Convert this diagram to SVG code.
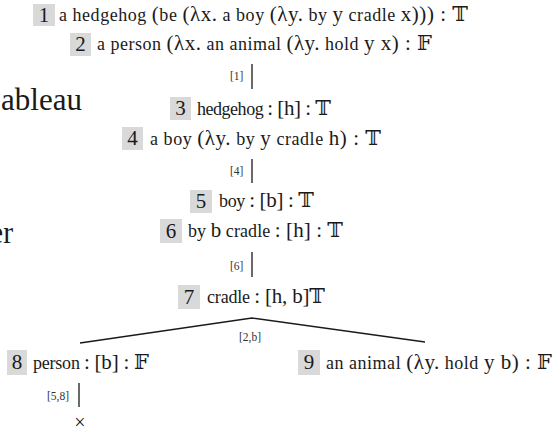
<svg xmlns="http://www.w3.org/2000/svg" width="554" height="433" viewBox="0 0 554 433">
<style>
text{fill:#1a1a1a}
.box{fill:#d9d9d9}
.num{font-size:21px;text-anchor:middle}
.f{font-size:18px}
.b{font-size:21px}
.lbl{font-size:11.5px;fill:#333}
.big{font-size:32px}
.line{stroke:#1a1a1a;stroke-width:1.3;fill:none}
</style>
<rect width="554" height="433" fill="#fff"/>
<g font-family="Liberation Serif, DejaVu Serif, serif">
<text class="big" x="1" y="110" textLength="81" lengthAdjust="spacingAndGlyphs">ableau</text>
<text class="big" x="-10" y="243" textLength="23" lengthAdjust="spacingAndGlyphs">er</text>
<g id="n1">
<rect class="box" x="33" y="4" width="22" height="22"/>
<text class="num" x="44" y="22">1</text>
<text class="f" x="59" y="21" textLength="409">a hedgehog <tspan class="b">(</tspan>be <tspan class="b">(λx.</tspan> a boy <tspan class="b">(λy.</tspan> by <tspan class="b">y</tspan> cradle <tspan class="b">x))) : 𝕋</tspan></text>
</g>
<g id="n2">
<rect class="box" x="70" y="33" width="21" height="23"/>
<text class="num" x="80.5" y="51">2</text>
<text class="f" x="97" y="50" textLength="335">a person <tspan class="b">(λx.</tspan> an animal <tspan class="b">(λy.</tspan> hold <tspan class="b">y x) : 𝔽</tspan></text>
</g>
<g id="n3">
<rect class="box" x="170" y="97" width="21" height="23"/>
<text class="num" x="180.5" y="115">3</text>
<text class="f" x="197" y="115" textLength="134">hedgehog <tspan class="b">: [h] : 𝕋</tspan></text>
</g>
<g id="n4">
<rect class="box" x="122" y="127" width="21" height="23"/>
<text class="num" x="132.5" y="145">4</text>
<text class="f" x="150" y="145" textLength="231">a boy <tspan class="b">(λy.</tspan> by <tspan class="b">y</tspan> cradle <tspan class="b">h) : 𝕋</tspan></text>
</g>
<g id="n5">
<rect class="box" x="190" y="190" width="22" height="23"/>
<text class="num" x="201" y="208">5</text>
<text class="f" x="219" y="207" textLength="95">boy <tspan class="b">: [b] : 𝕋</tspan></text>
</g>
<g id="n6">
<rect class="box" x="160" y="219" width="22" height="24"/>
<text class="num" x="171" y="238">6</text>
<text class="f" x="188" y="237" textLength="155">by <tspan class="b">b</tspan> cradle <tspan class="b">: [h] : 𝕋</tspan></text>
</g>
<g id="n7">
<rect class="box" x="178" y="285" width="22" height="24"/>
<text class="num" x="189" y="304">7</text>
<text class="f" x="207" y="303" textLength="118">cradle <tspan class="b">: [h, b]𝕋</tspan></text>
</g>
<g id="n8">
<rect class="box" x="7" y="350" width="20" height="25"/>
<text class="num" x="17" y="369">8</text>
<text class="f" x="33" y="369" textLength="116">person <tspan class="b">: [b] : 𝔽</tspan></text>
</g>
<g id="n9">
<rect class="box" x="298" y="350" width="22" height="25"/>
<text class="num" x="309" y="369">9</text>
<text class="f" x="326" y="369" textLength="226">an animal <tspan class="b">(λy.</tspan> hold <tspan class="b">y b) : 𝔽</tspan></text>
</g>
<g id="connectors">
<line class="line" x1="252" y1="64" x2="252" y2="89"/>
<text class="lbl" x="230" y="80">[1]</text>
<line class="line" x1="252" y1="159" x2="252" y2="183"/>
<text class="lbl" x="230" y="175">[4]</text>
<line class="line" x1="252" y1="252" x2="252" y2="277"/>
<text class="lbl" x="230" y="270">[6]</text>
<polyline class="line" points="80,343 252,318 425,342"/>
<text class="lbl" x="239" y="341">[2,b]</text>
<line class="line" x1="79" y1="383" x2="79" y2="407"/>
<text class="lbl" x="47" y="400">[5,8]</text>
<text x="80" y="428.5" font-size="20" text-anchor="middle">×</text>
</g>
</g>
</svg>
